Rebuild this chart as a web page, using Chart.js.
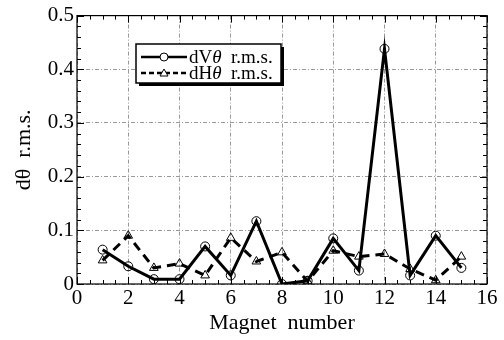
<!DOCTYPE html>
<html>
<head>
<meta charset="utf-8">
<script src="https://cdn.jsdelivr.net/npm/chart.js@4.4.0/dist/chart.umd.min.js"></script>
<style>
  html, body { margin: 0; padding: 0; background: #fff; }
  #wrap { width: 504px; height: 340px; }
</style>
</head>
<body>
<div id="wrap"><canvas id="chart" width="504" height="340"></canvas></div>
<script>
// magnet index and r.m.s. values
const magnets = [1, 2, 3, 4, 5, 6, 7, 8, 9, 10, 11, 12, 13, 14, 15];
const dVrms = [0.064, 0.033, 0.009, 0.009, 0.070, 0.016, 0.117, 0.000, 0.006, 0.085, 0.025, 0.438, 0.016, 0.090, 0.030];
const dHrms = [0.044, 0.090, 0.030, 0.038, 0.016, 0.086, 0.042, 0.059, 0.005, 0.062, 0.051, 0.056, 0.028, 0.007, 0.051];
const xTicks = [0, 2, 4, 6, 8, 10, 12, 14, 16];
const yTicks = [0, 0.1, 0.2, 0.3, 0.4, 0.5];

const serif = '"Liberation Serif", "DejaVu Serif", serif';

const toPoints = (vals) => vals.map((v, i) => ({ x: magnets[i], y: v }));

// frame, inward ticks and the boxed legend
const framePlugin = {
    id: 'frame',
    afterDraw(chart) {
        const ctx = chart.ctx;
        const a = chart.chartArea;
        const xs = chart.scales.x;
        const ys = chart.scales.y;
        ctx.save();
        ctx.strokeStyle = '#000';
        ctx.lineWidth = 1;

        // minor / major ticks on all four sides
        ctx.beginPath();
        for (let v = 0; v <= 16.001; v += 0.5) {
            const px = Math.round(xs.getPixelForValue(v)) + 0.5;
            const len = (Math.abs(v % 2) < 0.01) ? 7 : 4;
            ctx.moveTo(px, a.bottom); ctx.lineTo(px, a.bottom - len);
            ctx.moveTo(px, a.top); ctx.lineTo(px, a.top + len);
        }
        for (let v = 0; v <= 0.5001; v += 0.02) {
            const py = Math.round(ys.getPixelForValue(v)) + 0.5;
            const len = (Math.abs(v * 10 - Math.round(v * 10)) < 0.01) ? 7 : 4;
            ctx.moveTo(a.left, py); ctx.lineTo(a.left + len, py);
            ctx.moveTo(a.right, py); ctx.lineTo(a.right - len, py);
        }
        ctx.stroke();

        ctx.lineWidth = 1.2;
        ctx.strokeRect(a.left, a.top, a.right - a.left, a.bottom - a.top);

        // legend box with shadow
        const bx = 136, by = 44, bw = 145, bh = 39;
        ctx.fillStyle = '#000';
        ctx.fillRect(bx + 3, by + 3, bw, bh);
        ctx.fillStyle = '#fff';
        ctx.fillRect(bx, by, bw, bh);
        ctx.lineWidth = 1.5;
        ctx.strokeRect(bx, by, bw, bh);

        const rows = [
            { y: by + 13, dash: [], marker: 'circle', name: 'V' },
            { y: by + 29, dash: [5, 3], marker: 'triangle', name: 'H' }
        ];
        rows.forEach(r => {
            ctx.setLineDash(r.dash);
            ctx.lineWidth = 2.5;
            ctx.beginPath();
            ctx.moveTo(bx + 5, r.y); ctx.lineTo(bx + 51, r.y);
            ctx.stroke();
            ctx.setLineDash([]);
            ctx.lineWidth = 1;
            ctx.fillStyle = '#fff';
            ctx.beginPath();
            if (r.marker === 'circle') {
                ctx.arc(bx + 28, r.y, 4, 0, Math.PI * 2);
            } else {
                ctx.moveTo(bx + 28, r.y - 4);
                ctx.lineTo(bx + 32, r.y + 3);
                ctx.lineTo(bx + 24, r.y + 3);
                ctx.closePath();
            }
            ctx.fill();
            ctx.stroke();

            ctx.fillStyle = '#000';
            ctx.textBaseline = 'middle';
            ctx.textAlign = 'left';
            let tx = bx + 53;
            ctx.font = '19px ' + serif;
            const pre = 'd' + r.name;
            ctx.fillText(pre, tx, r.y + 1);
            tx += ctx.measureText(pre).width;
            ctx.font = 'italic 19px ' + serif;
            ctx.fillText('\u03b8', tx, r.y + 1);
            tx += ctx.measureText('\u03b8').width;
            ctx.font = '19px ' + serif;
            ctx.fillText('  r.m.s.', tx, r.y + 1);
        });
        ctx.restore();
    }
};

new Chart(document.getElementById('chart'), {
    type: 'line',
    data: {
        datasets: [
            {
                label: 'dV\u03b8 r.m.s.',
                data: toPoints(dVrms),
                borderColor: '#000',
                borderWidth: 3,
                tension: 0,
                pointStyle: 'circle',
                pointRadius: 4.5,
                pointBorderWidth: 1,
                pointBorderColor: '#000',
                pointBackgroundColor: 'rgba(255,255,255,0)'
            },
            {
                label: 'dH\u03b8 r.m.s.',
                data: toPoints(dHrms),
                borderColor: '#000',
                borderWidth: 3,
                borderDash: [9, 6],
                tension: 0,
                pointStyle: 'triangle',
                pointRadius: 5,
                pointBorderWidth: 1,
                pointBorderColor: '#000',
                pointBackgroundColor: 'rgba(255,255,255,0)'
            }
        ]
    },
    options: {
        responsive: false,
        animation: false,
        layout: { padding: { top: 14, right: 17, left: 0, bottom: 0 } },
        plugins: {
            legend: { display: false },
            tooltip: { enabled: false }
        },
        scales: {
            x: {
                type: 'linear',
                min: 0,
                max: 16,
                afterBuildTicks(scale) { scale.ticks = xTicks.map(v => ({ value: v })); },
                afterFit(scale) { scale.height = 56; },
                ticks: { color: '#000', font: { family: serif, size: 21 }, padding: 2 },
                grid: { color: '#999', lineWidth: 1, drawTicks: false },
                border: { display: false, dash: [4, 2, 1, 2] },
                title: {
                    display: true,
                    text: 'Magnet  number',
                    color: '#000',
                    font: { family: serif, size: 22 },
                    padding: { top: 0, bottom: 4 }
                }
            },
            y: {
                type: 'linear',
                min: 0,
                max: 0.5,
                afterBuildTicks(scale) { scale.ticks = yTicks.map(v => ({ value: v })); },
                afterFit(scale) { scale.width = 77; },
                ticks: { color: '#000', font: { family: serif, size: 21 }, padding: 3 },
                grid: { color: '#999', lineWidth: 1, drawTicks: false },
                border: { display: false, dash: [4, 2, 1, 2] },
                title: {
                    display: true,
                    text: 'd\u03b8  r.m.s.',
                    color: '#000',
                    font: { family: serif, size: 22 },
                    padding: { top: 11, bottom: 0 }
                }
            }
        }
    },
    plugins: [framePlugin]
});
</script>
</body>
</html>
